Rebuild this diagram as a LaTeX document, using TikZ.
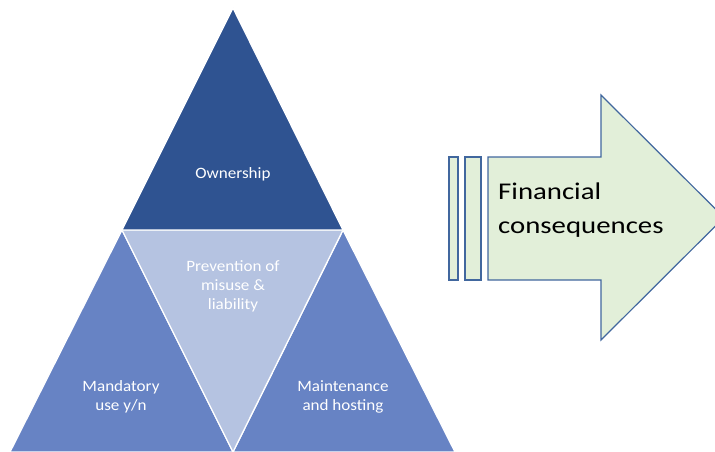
\documentclass[tikz,border=0pt]{standalone}
\usepackage{fontspec}
\setmainfont{Carlito}
\newfontfamily\trifont[FakeStretch=1.08]{Carlito}
\newfontfamily\bigfont[FakeStretch=1.2]{Carlito}
\definecolor{topblue}{HTML}{2F5391}
\definecolor{sideblue}{HTML}{6783C4}
\definecolor{midblue}{HTML}{B5C3E1}
\definecolor{arrowfill}{HTML}{E2EFD9}
\definecolor{arrowline}{HTML}{41679E}
\begin{document}
\begin{tikzpicture}[x=1pt,y=-1pt,
  piece/.style={draw=white,line width=1.3pt,line join=miter},
  tlabel/.style={text=white,align=center,font=\trifont\fontsize{15.8}{19}\selectfont,inner sep=0pt},
  arr/.style={fill=arrowfill,draw=arrowline,line width=1.2pt,line join=miter}]
\useasboundingbox (0,0) rectangle (715,452);
\begin{scope}
\clip (0,0) rectangle (715,452);
% pyramid
\coordinate (A) at (233,8);
\coordinate (L) at (122,230);
\coordinate (R) at (343,230);
\coordinate (BL) at (10,452);
\coordinate (BM) at (233,452);
\coordinate (BR) at (455,452);
\fill[sideblue,piece] (L) -- (BL) -- (BM) -- cycle;
\fill[sideblue,piece] (R) -- (BM) -- (BR) -- cycle;
\fill[midblue,piece] (L) -- (R) -- (BM) -- cycle;
\fill[topblue,piece] (A) -- (L) -- (R) -- cycle;
% arrow
\draw[arr] (449,157) rectangle (458,280);
\draw[arr] (465,157) rectangle (481,280);
\draw[arr] (488,157) -- (601,157) -- (601,95) -- (724,217.5) -- (601,340) -- (601,280) -- (488,280) -- cycle;
\end{scope}
\node[tlabel] (own) at (233,174) {Ownership};
\node[tlabel] (prev) at (233,286) {Prevention of\\misuse \&\\liability};
\node[tlabel] (mand) at (121,397) {Mandatory\\use y/n};
\node[tlabel] (maint) at (343,397) {Maintenance\\and hosting};
\node[anchor=west,align=left,inner sep=0pt,font=\bigfont\fontsize{24}{33.5}\selectfont] (fin) at (498,210) {Financial\\consequences};
\end{tikzpicture}
\end{document}
